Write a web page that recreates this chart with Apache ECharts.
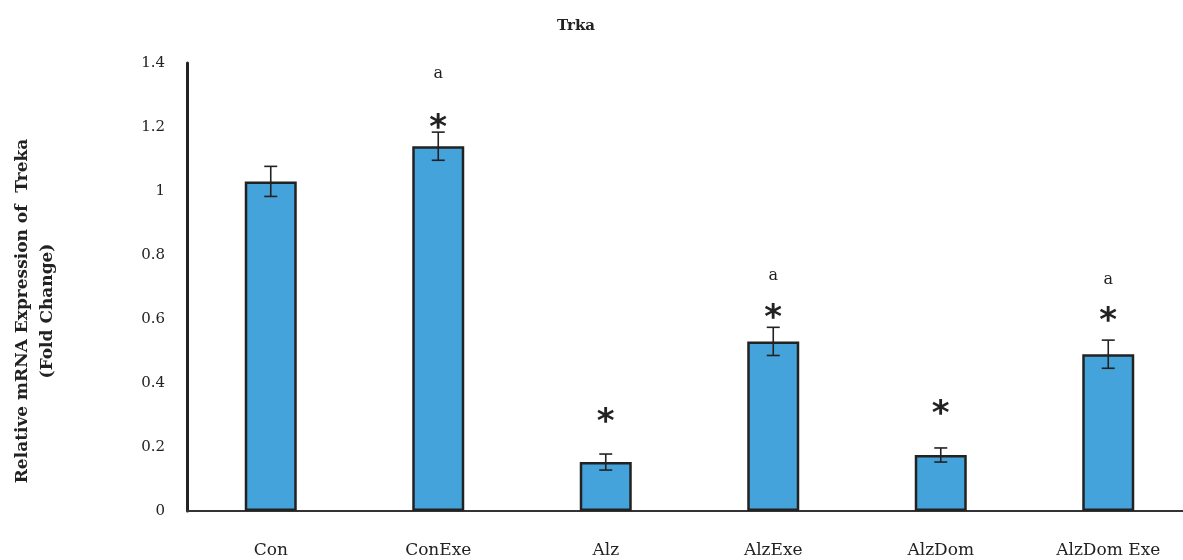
<!DOCTYPE html>
<html>
<head>
<meta charset="utf-8">
<script src="https://cdn.jsdelivr.net/npm/echarts@6/dist/echarts.min.js"></script>
<style>html,body{margin:0;background:#fff}#main{width:1183px;height:560px}</style>
</head>
<body>
<div id="main"></div>
<script>
// data
var groups = ['Con', 'ConExe', 'Alz', 'AlzExe', 'AlzDom', 'AlzDom Exe'];
var foldChange = [1.03, 1.14, 0.153, 0.53, 0.175, 0.49];
var errSD = [0.047, 0.044, 0.025, 0.044, 0.022, 0.044];
var starAt = [null, 1.215, 0.295, 0.62, 0.32, 0.612];
var letterAt = [null, 1.365, null, 0.735, null, 0.722];
var yTicks = [0, 0.2, 0.4, 0.6, 0.8, 1, 1.2, 1.4];

var serif = 'DejaVu Serif';
var ink = '#222';

var errData = foldChange.map(function (v, i) { return [i, v - errSD[i], v + errSD[i]]; });
var starData = [], letterData = [];
starAt.forEach(function (v, i) { if (v != null) starData.push([i, v]); });
letterAt.forEach(function (v, i) { if (v != null) letterData.push([i, v]); });

// glyph drawn at the data point (dy nudges the glyph's visual centre)
function textItem(str, font, dy) {
  return function (params, api) {
    var p = api.coord([api.value(0), api.value(1)]);
    return {
      type: 'text',
      style: { text: str, x: p[0], y: p[1] + dy, align: 'center', verticalAlign: 'middle', font: font, fill: ink }
    };
  };
}

var myChart = echarts.init(document.getElementById('main'));
var option = {
  animation: false,
  title: {
    text: 'Trka', left: 552, top: 14,
    textStyle: { fontFamily: serif, fontWeight: 'bold', fontSize: 15, color: ink }
  },
  // the plot runs past the right edge of the picture, as in the original
  grid: { left: 187, top: 63, width: 1005, bottom: 49, outerBoundsMode: 'none' },
  xAxis: {
    type: 'category',
    data: groups,
    axisLine: { lineStyle: { color: '#333', width: 2 } },
    axisTick: { show: false },
    axisLabel: { margin: 31, fontFamily: serif, fontSize: 17, color: ink }
  },
  yAxis: {
    type: 'value',
    min: yTicks[0], max: yTicks[yTicks.length - 1], interval: 0.2,
    axisLine: { show: true, lineStyle: { color: ink, width: 3 } },
    axisTick: { show: false },
    splitLine: { show: false },
    axisLabel: { margin: 22, fontFamily: serif, fontSize: 15, color: ink }
  },
  graphic: [{
    type: 'text',
    x: 35, y: 311,
    rotation: Math.PI / 2,
    style: {
      text: 'Relative mRNA Expression of  Treka\n(Fold Change)',
      align: 'center', verticalAlign: 'middle', lineHeight: 25,
      font: 'bold 17px "DejaVu Serif"', fill: ink
    }
  }],
  series: [
    {
      name: 'Trka', type: 'bar', data: foldChange, barWidth: 52,
      itemStyle: { color: '#44A3DA', borderColor: ink, borderWidth: 2.5 }
    },
    {
      type: 'custom', data: errData, z: 5,
      renderItem: function (params, api) {
        var lo = api.coord([api.value(0), api.value(1)]);
        var hi = api.coord([api.value(0), api.value(2)]);
        var w = 6.5;
        var st = { stroke: ink, lineWidth: 1.6 };
        return {
          type: 'group',
          children: [
            { type: 'line', shape: { x1: lo[0], y1: lo[1], x2: hi[0], y2: hi[1] }, style: st },
            { type: 'line', shape: { x1: lo[0] - w, y1: lo[1], x2: lo[0] + w, y2: lo[1] }, style: st },
            { type: 'line', shape: { x1: hi[0] - w, y1: hi[1], x2: hi[0] + w, y2: hi[1] }, style: st }
          ]
        };
      }
    },
    { type: 'custom', data: starData, renderItem: textItem('*', 'bold 34px "DejaVu Sans"', 7) },
    { type: 'custom', data: letterData, renderItem: textItem('a', '16px "DejaVu Serif"', 0) }
  ]
};
myChart.setOption(option);
</script>
</body>
</html>
